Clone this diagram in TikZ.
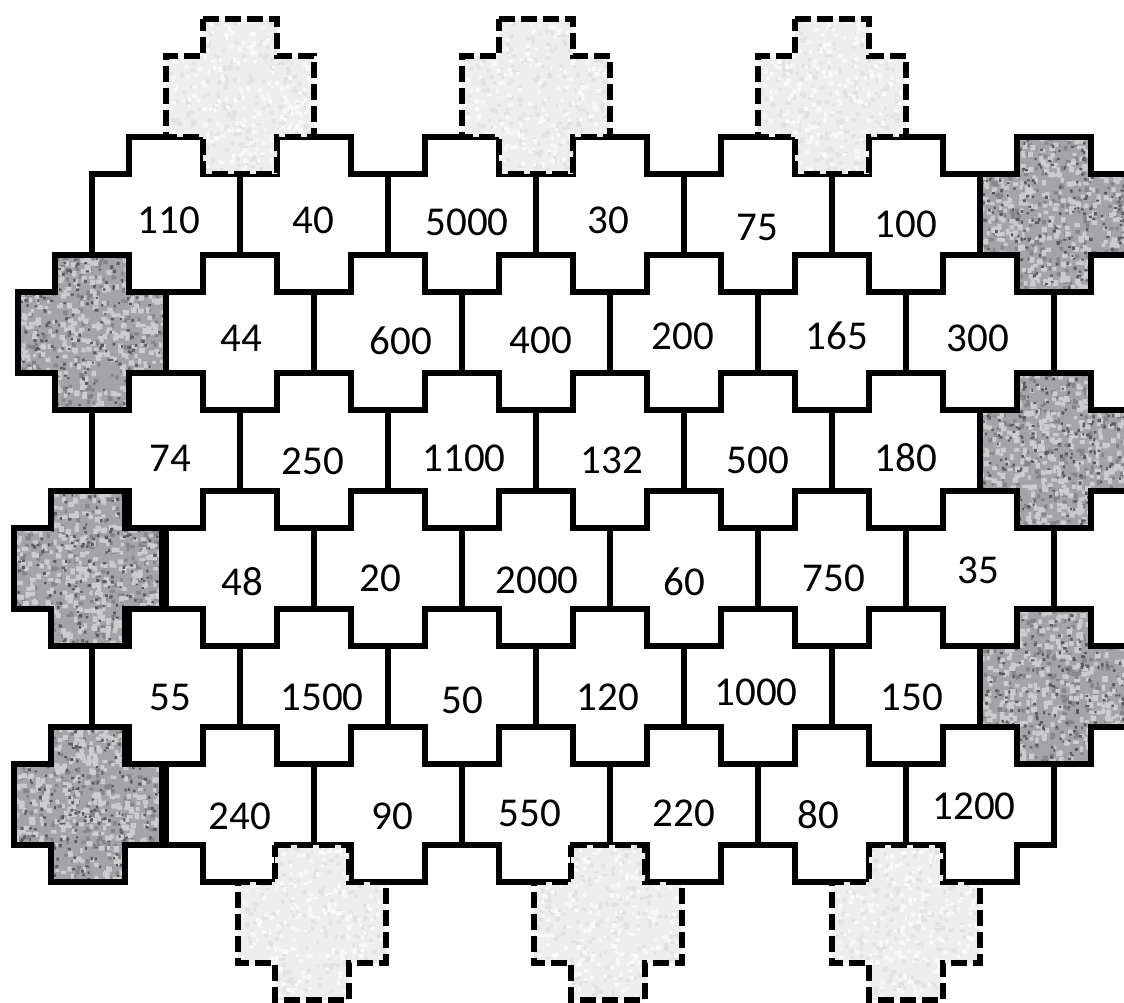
\documentclass[tikz,border=0pt]{standalone}
\usepackage{fontspec}
\setmainfont{Carlito}
\definecolor{granite}{rgb}{0.64,0.64,0.66}
\definecolor{graniteMid}{rgb}{0.52,0.52,0.54}
\definecolor{graniteDark}{rgb}{0.36,0.36,0.38}
\definecolor{graniteLight}{rgb}{0.80,0.80,0.81}
\definecolor{pale}{rgb}{0.935,0.935,0.935}
\definecolor{paleDark}{rgb}{0.885,0.885,0.885}
\definecolor{paleLight}{rgb}{0.975,0.975,0.975}
\tikzset{
  tileline/.style={draw=black, line width=5.2pt, line join=miter},
  darkline/.style={draw=black, line width=6pt, line join=miter},
  dashline/.style={draw=black, line width=6pt, dash pattern=on 16pt off 6pt},
  num/.style={font=\fontsize{41}{47}\selectfont, inner sep=0pt, text=black}
}
\newcommand\plusshape{(-37,-77.5) -- (37,-77.5) -- (37,-40.5) -- (74,-40.5) -- (74,40.5) -- (37,40.5) -- (37,77.5) -- (-37,77.5) -- (-37,40.5) -- (-74,40.5) -- (-74,-40.5) -- (-37,-40.5) -- cycle}
\newcommand\whitetile[2]{\path[tileline, fill=white, shift={(#1,#2)}] \plusshape;}
\newcommand\speckle[6]{%
  \fill[#4] \foreach \k in {1,...,#3}{ ({#1+154*rnd-80},{#2+162*rnd-84}) rectangle ++({#5+(#6-#5)*rnd},{#5+(#6-#5)*rnd}) };}
\newcommand\darktile[2]{%
  \begin{scope}
    \clip[shift={(#1,#2)}] \plusshape;
    \fill[granite] (#1-80,#2-80) rectangle (#1+80,#2+80);
    \speckle{#1}{#2}{260}{graniteMid}{2.5}{5}
    \speckle{#1}{#2}{420}{graniteLight}{3}{6}
    \speckle{#1}{#2}{230}{graniteDark}{1.8}{3.4}
  \end{scope}
  \path[darkline, shift={(#1,#2)}] \plusshape;}
\newcommand\paletile[2]{%
  \begin{scope}
    \clip[shift={(#1,#2)}] \plusshape;
    \fill[pale] (#1-80,#2-80) rectangle (#1+80,#2+80);
    \speckle{#1}{#2}{260}{paleDark}{2.5}{5}
    \speckle{#1}{#2}{260}{paleLight}{2.5}{5}
  \end{scope}
  \path[dashline, shift={(#1,#2)}] \plusshape;}
\pgfmathsetseed{7}
\begin{document}
\begin{tikzpicture}[x=1pt, y=-1pt]
\fill[white] (0,0) rectangle (1124,1003);
\useasboundingbox (0,0) rectangle (1124,1003);
% white tiles
\foreach \yy in {214.5,450.5,686.5}{\foreach \xx in {166,314,462,610,758,906}{\whitetile{\xx}{\yy}}}
\foreach \yy in {332.5,568.5,804.5}{\foreach \xx in {240,388,536,684,832,980}{\whitetile{\xx}{\yy}}}
% dark granite tiles
\darktile{1054}{214.5}
\darktile{92}{332.5}
\darktile{1054}{450.5}
\darktile{88}{568.5}
\darktile{1054}{686.5}
\darktile{88}{804.5}
% pale dashed tiles
\paletile{240}{96.5}
\paletile{536}{96.5}
\paletile{832}{96.5}
\paletile{312}{922.5}
\paletile{608}{922.5}
\paletile{906}{922.5}
% numbers
\node[num] (n110) at (169,220) {110};
\node[num] (n40) at (313,220) {40};
\node[num] (n5000) at (467,222) {5000};
\node[num] (n30) at (608,220) {30};
\node[num] (n75) at (757,227) {75};
\node[num] (n100) at (906,224) {100};
\node[num] (n44) at (241,338) {44};
\node[num] (n600) at (401,341) {600};
\node[num] (n400) at (541,340) {400};
\node[num] (n200) at (683,336) {200};
\node[num] (n165) at (837,336) {165};
\node[num] (n300) at (978,338) {300};
\node[num] (n74) at (170,458) {74};
\node[num] (n250) at (313,461) {250};
\node[num] (n1100) at (464,458) {1100};
\node[num] (n132) at (612,460) {132};
\node[num] (n500) at (758,460) {500};
\node[num] (n180) at (906,458) {180};
\node[num] (n48) at (242,582) {48};
\node[num] (n20) at (380,578) {20};
\node[num] (n2000) at (537,580) {2000};
\node[num] (n60) at (684,582) {60};
\node[num] (n750) at (834,578) {750};
\node[num] (n35) at (978,570) {35};
\node[num] (n55) at (170,697) {55};
\node[num] (n1500) at (322,697) {1500};
\node[num] (n50) at (462,700) {50};
\node[num] (n120) at (608,697) {120};
\node[num] (n1000) at (756,692) {1000};
\node[num] (n150) at (912,697) {150};
\node[num] (n240) at (240,816) {240};
\node[num] (n90) at (392,816) {90};
\node[num] (n550) at (530,813) {550};
\node[num] (n220) at (684,813) {220};
\node[num] (n80) at (818,815) {80};
\node[num] (n1200) at (974,806) {1200};
\end{tikzpicture}
\end{document}
